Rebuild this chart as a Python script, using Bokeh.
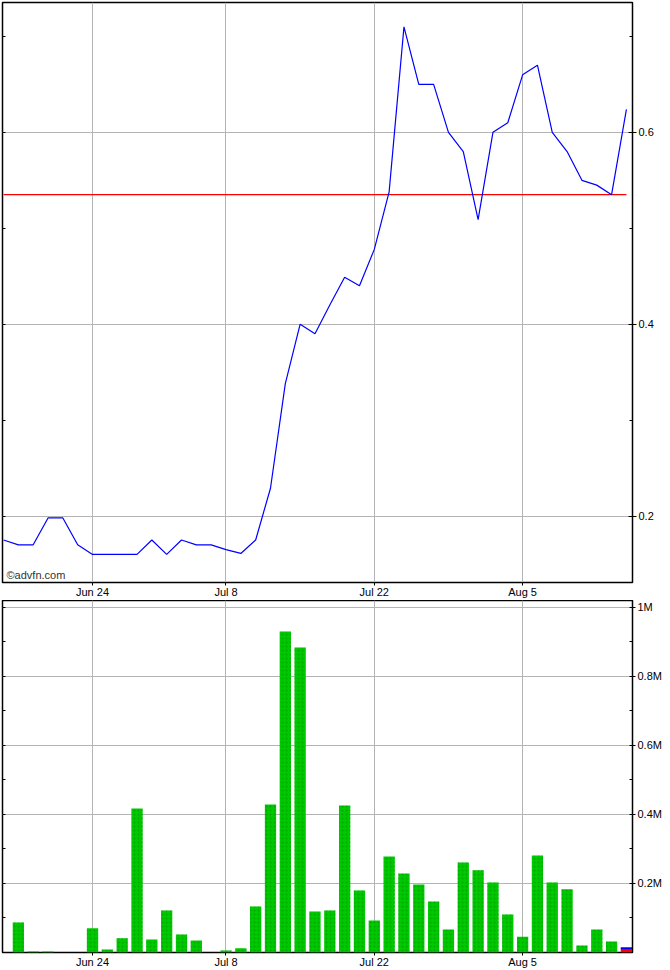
from bokeh.plotting import figure
from bokeh.models import (ColumnDataSource, Range1d, FixedTicker, LinearAxis, Label,
                          CustomJSTickFormatter)
from bokeh.layouts import column
from bokeh.embed import file_html
from bokeh.resources import INLINE

# ---------------- data ----------------
dates = ["Jun 14", "Jun 17", "Jun 18", "Jun 19", "Jun 20", "Jun 21",
         "Jun 24", "Jun 25", "Jun 26", "Jun 27", "Jun 28",
         "Jul 1", "Jul 2", "Jul 3", "Jul 5",
         "Jul 8", "Jul 9", "Jul 10", "Jul 11", "Jul 12",
         "Jul 15", "Jul 16", "Jul 17", "Jul 18", "Jul 19",
         "Jul 22", "Jul 23", "Jul 24", "Jul 25", "Jul 26",
         "Jul 29", "Jul 30", "Jul 31", "Aug 1", "Aug 2",
         "Aug 5", "Aug 6", "Aug 7", "Aug 8", "Aug 9",
         "Aug 12", "Aug 13", "Aug 14"]

close = [0.175, 0.170, 0.170, 0.198, 0.198, 0.170,
         0.160, 0.160, 0.160, 0.160, 0.175,
         0.160, 0.175, 0.170, 0.170,
         0.165, 0.161, 0.175, 0.229, 0.338,
         0.400, 0.390, 0.420, 0.449, 0.440,
         0.478, 0.538, 0.710, 0.650, 0.650,
         0.600, 0.580, 0.509, 0.600, 0.610,
         0.660, 0.670, 0.600, 0.580, 0.550,
         0.545, 0.535, 0.624]

volume = [0, 87000, 3000, 3000, 0, 0,
          70000, 9000, 41000, 417000, 38000,
          122000, 52000, 35000, 0,
          6000, 12000, 133000, 429000, 930000,
          884000, 119000, 122000, 426000, 180000,
          93000, 278000, 229000, 197000, 148000,
          67000, 261000, 238000, 203000, 110000,
          46000, 281000, 203000, 183000, 20000,
          67000, 32000, 12000]

tick_dates = ["Jun 24", "Jul 8", "Jul 22", "Aug 5"]
price_ticks = [0.2, 0.4, 0.6]
price_labels = ["0.2", "0.4", "0.6"]
price_minor = [0.1, 0.2, 0.3, 0.4, 0.5, 0.6, 0.7]
vol_ticks = [200000, 400000, 600000, 800000, 1000000]
vol_labels = ["0.2M", "0.4M", "0.6M", "0.8M", "1M"]
vol_minor = [100000, 200000, 300000, 400000, 500000, 600000, 700000, 800000, 900000, 1000000]
prev_close = close[-2]

# ---------------- styling ----------------
FONT = "Liberation Sans"
FS = "11px"
GRID = "#b4b4b4"
GREEN = "#00c800"

idx = list(range(len(dates)))
tick_idx = [dates.index(d) for d in tick_dates]
x_labels = {i: d for i, d in zip(tick_idx, tick_dates)}
bar_w = 0.76


def base_fig(fh, yr, top=0):
    p = figure(frame_width=630, frame_height=fh,
               x_range=Range1d(-0.07, 42.41), y_range=yr,
               output_backend="svg", toolbar_location=None,
               y_axis_location="right",
               min_border_left=2, min_border_top=top,
               min_border_bottom=0, min_border_right=0)
    p.outline_line_color = "black"
    p.outline_line_width = 1.5
    p.background_fill_color = "white"
    p.border_fill_color = "white"
    xa = p.xaxis[0]
    xa.ticker = FixedTicker(ticks=tick_idx)
    xa.major_label_overrides = x_labels
    xa.axis_line_color = None
    xa.major_tick_in = 0
    xa.major_tick_out = 3
    xa.minor_tick_line_color = None
    xa.major_label_standoff = 0
    xa.major_label_text_font = FONT
    xa.major_label_text_font_size = FS
    xa.major_label_text_color = "black"
    p.xgrid.grid_line_color = GRID
    p.ygrid.grid_line_color = GRID
    p.xgrid.grid_line_width = 1
    p.ygrid.grid_line_width = 1
    return p


def style_right(ax, ticks, labels, minor, tin, tout):
    ax.ticker = FixedTicker(ticks=ticks, minor_ticks=minor)
    ax.major_label_overrides = {t: l for t, l in zip(ticks, labels)}
    ax.axis_line_color = None
    ax.major_tick_in = tin
    ax.major_tick_out = tout
    ax.minor_tick_in = 3
    ax.minor_tick_out = 0
    ax.major_label_standoff = 2
    ax.major_label_text_font = FONT
    ax.major_label_text_font_size = FS
    ax.major_label_text_color = "black"


def add_left(p, minor):
    la = LinearAxis(ticker=FixedTicker(ticks=minor, minor_ticks=[]),
                    formatter=CustomJSTickFormatter(code="return ''"),
                    axis_line_color=None, major_tick_in=3, major_tick_out=0,
                    minor_tick_in=0, minor_tick_out=0,
                    major_label_standoff=0)
    p.add_layout(la, "left")


# ---------------- price panel ----------------
p1 = base_fig(580, Range1d(0.1307, 0.7354), top=2)
style_right(p1.yaxis[0], price_ticks, price_labels, price_minor, 4, 4)
add_left(p1, price_minor)

src = ColumnDataSource(dict(x=idx, close=close, vol=volume))
p1.line([idx[0], idx[-1]], [prev_close, prev_close], line_color="#ff0000", line_width=1.2)
p1.line("x", "close", source=src, line_color="#0000ff", line_width=1.2)

p1.add_layout(Label(x=4, y=2, x_units="screen", y_units="screen",
                    text="©advfn.com", text_font=FONT, text_font_size=FS,
                    text_color="#333333", text_baseline="bottom"))

# ---------------- volume panel ----------------
p2 = base_fig(352, Range1d(0, 1020000))
style_right(p2.yaxis[0], vol_ticks, vol_labels, vol_minor, 0, 3)
add_left(p2, vol_minor)

bar_colors = [GREEN] * (len(volume) - 1) + ["#ff0000"]
bar_hatch = ["dot"] * (len(volume) - 1) + [" "]
src2 = ColumnDataSource(dict(x=idx, vol=volume, color=bar_colors, hatch=bar_hatch))
p2.vbar(x="x", top="vol", bottom=0, width=bar_w, source=src2,
        fill_color="color", line_color=None,
        hatch_pattern="hatch", hatch_color="#008a00", hatch_scale=4,
        hatch_weight=1, hatch_alpha=0.5)
p2.segment(x0=[idx[-1] - bar_w / 2], x1=[idx[-1] + bar_w / 2],
           y0=[volume[-1]], y1=[volume[-1]], line_color="#0000ff", line_width=2)

layout = column(p1, p2, spacing=0)
open("out.html", "w").write(file_html(layout, INLINE))
